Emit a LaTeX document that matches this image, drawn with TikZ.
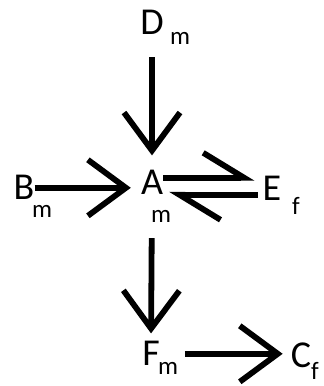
\documentclass[tikz,border=0pt]{standalone}
\usepackage{fontspec}
\setmainfont{Carlito}
\usetikzlibrary{arrows.meta}

\begin{document}
\begin{tikzpicture}[
    x=1pt, y=1pt,
    species/.style={
        inner sep=0pt,
        anchor=base,
        font=\fontsize{38}{40}\selectfont
    },
    sub/.style={
        inner sep=0pt,
        anchor=base,
        font=\fontsize{25}{28}\selectfont
    },
    arrow/.style={
        -{Straight Barb[length=38pt, width=56pt]},
        line width=5.8pt
    },
    harpoon/.style={
        -{Straight Barb[harpoon, length=41pt, width=50pt]},
        line width=5.8pt
    }
]
\useasboundingbox (0,0) rectangle (324,386);

% Nodes
\node (D) [species] at (152,351) {D};
\node (A) [species] at (152,191) {A};
\node (B) [species] at (24,186) {B};
\node (E) [species] at (272,185) {E};
\node (F) [species] at (151,20) {F};
\node (C) [species] at (301,18) {C};

% Subscripts
\node (Dm) [sub] at (180,341) {m};
\node (Am) [sub] at (161,163) {m};
\node (Bm) [sub] at (42,168) {m};
\node (Ef) [sub] at (296,171) {f};
\node (Fm) [sub] at (168,11) {m};
\node (Cf) [sub, anchor=base west] at (311,6) {f};

% Paths
\draw [arrow, shorten <=22pt, shorten >=15pt] (D.south) -- (A.north);
\draw [arrow, shorten >=10pt] (B.east) -- (B.east -| A.west);
\draw [harpoon, shorten >=8pt] ([yshift=5pt]A.east) -- ([yshift=5pt]A.east -| E.west);
\draw [harpoon, shorten <=5pt, shorten >=6pt] ([yshift=-6pt]E.west) -- ([yshift=-6pt]E.west -| A.east);
\draw [arrow, shorten <=43pt, shorten >=8pt] (A.south) -- (F.north);
\draw [arrow, shorten <=25pt, shorten >=8pt] (F.east) -- (F.east -| C.west);

\end{tikzpicture}
\end{document}
